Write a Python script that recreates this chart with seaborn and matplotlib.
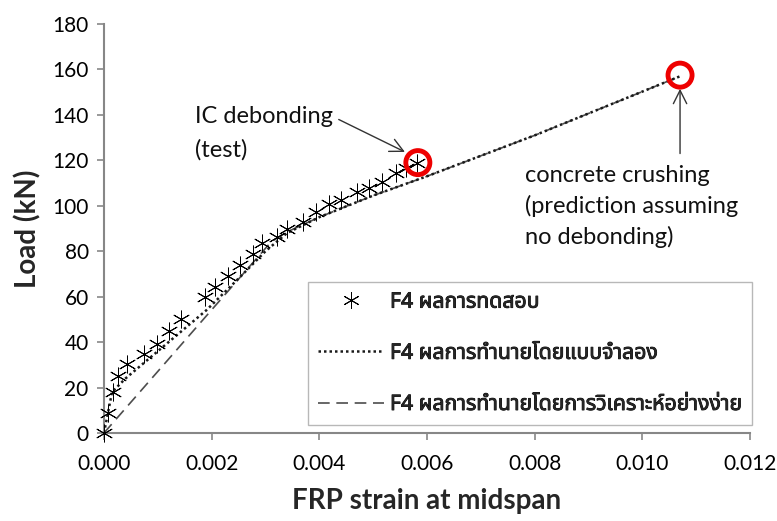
import numpy as np
import pandas as pd
import matplotlib
matplotlib.use("Agg")
import matplotlib.pyplot as plt
import matplotlib.patheffects as pe
import seaborn as sns
from matplotlib import font_manager as fm
from matplotlib.lines import Line2D

# ---------------- data ----------------
test_strain = [0.0, 0.00007, 0.00017, 0.00027, 0.00043, 0.00074, 0.00098, 0.00121,
               0.00144, 0.00188, 0.00206, 0.00231, 0.00253, 0.00276, 0.00293, 0.00321,
               0.0034, 0.00369, 0.00394, 0.00418, 0.00441, 0.0047, 0.00493, 0.00516,
               0.00542, 0.00561, 0.00582]
test_load = [0.0, 9.0, 18.2, 25.0, 30.4, 34.8, 39.2, 44.9, 50.0, 59.7, 64.4, 69.1,
             73.9, 78.8, 83.8, 86.4, 89.6, 93.0, 97.4, 101.0, 102.5, 106.2, 107.7,
             110.6, 114.3, 116.5, 118.8]

model_strain = [0.0, 0.00015, 0.0004, 0.0019, 0.0025, 0.003, 0.0034, 0.004, 0.005,
                0.006, 0.0080, 0.0107]
model_load = [0.0, 18.0, 24.0, 54.0, 68.0, 80.0, 88.0, 95.0, 104.5, 113.0, 131.0, 157.0]

simple_strain = [0.0, 0.0031, 0.0034, 0.004, 0.005, 0.006, 0.0080, 0.0107]
simple_load = [0.0, 84.0, 88.5, 95.0, 104.5, 113.0, 131.0, 157.0]

event_strain = [0.00583, 0.0107]
event_load = [119.0, 157.5]

legend_labels = ["F4 ผลการทดสอบ",
                 "F4 ผลการทำนายโดยแบบจำลอง",
                 "F4 ผลการทำนายโดยการวิเคราะห์อย่างง่าย"]
x_ticks = [0.000, 0.002, 0.004, 0.006, 0.008, 0.010, 0.012]
y_ticks = [0, 20, 40, 60, 80, 100, 120, 140, 160, 180]
x_label = "FRP strain at midspan"
y_label = "Load (kN)"
note_ic = "IC debonding\n(test)"
note_cc = "concrete crushing\n(prediction assuming\nno debonding)"

# ---------------- fonts ----------------
sns.set_style("white")
base_font = "Lato"
thai_font = None
try:
    from fontTools.ttLib import TTFont
    prefs = []
    for f in fm.fontManager.ttflist:
        try:
            tt = TTFont(f.fname, fontNumber=0, lazy=True)
            cmap = tt.getBestCmap()
            if cmap and 0x0E1C in cmap and 0x0E33 in cmap:
                prefs.append(f.name)
        except Exception:
            pass
    if prefs:
        order = ["Tahoma", "Noto Sans Thai", "Noto Sans Thai UI", "Loma", "Garuda"]
        thai_font = next((n for n in order if n in prefs), prefs[0])
except Exception:
    pass
legend_family = [thai_font, "DejaVu Sans"] if thai_font else ["DejaVu Sans"]
plt.rcParams["font.family"] = [base_font, "DejaVu Sans"]

# ---------------- figure ----------------
fig = plt.figure(figsize=(7.77, 5.21), dpi=100)
ax = fig.add_axes([0.1338, 0.1689, 0.8315, 0.785])

df_test = pd.DataFrame({"strain": test_strain, "load": test_load})
df_model = pd.DataFrame({"strain": model_strain, "load": model_load})
df_simple = pd.DataFrame({"strain": simple_strain, "load": simple_load})
df_event = pd.DataFrame({"strain": event_strain, "load": event_load})

star = (6, 2, 0)
sns.lineplot(data=df_simple, x="strain", y="load", ax=ax, color="#4d4d4d",
             linewidth=1.2, estimator=None, sort=False,
             linestyle=(0, (7, 4)), legend=False)
sns.lineplot(data=df_model, x="strain", y="load", ax=ax, color="#1a1a1a",
             linewidth=1.8, estimator=None, sort=False,
             linestyle=(0, (1, 1.2)), legend=False)
sns.scatterplot(data=df_test, x="strain", y="load", ax=ax, color="black",
                marker=star, s=150, linewidth=0.7, legend=False, zorder=4,
                clip_on=False)
sns.scatterplot(data=df_event, x="strain", y="load", ax=ax, marker="o",
                s=300, facecolor="none", edgecolor="#ee0000", linewidth=3.5,
                legend=False, zorder=5)

ax.set_xlim(0, 0.012)
ax.set_ylim(0, 180)
ax.set_xticks(x_ticks)
ax.set_xticklabels([f"{v:.3f}" for v in x_ticks])
ax.set_yticks(y_ticks)
ax.set_yticklabels([str(v) for v in y_ticks])

for s in ["top", "right"]:
    ax.spines[s].set_visible(False)
for s in ["left", "bottom"]:
    ax.spines[s].set_color("#878787")
    ax.spines[s].set_linewidth(1.5)
ax.tick_params(axis="both", which="major", direction="out", length=5, width=1.2,
               color="#878787", labelsize=15, labelcolor="black", pad=6,
               left=True, bottom=True)
ax.tick_params(axis="x", pad=10)

ax.set_xlabel(x_label, fontsize=20, fontweight="bold", labelpad=10)
ax.set_ylabel(y_label, fontsize=20, fontweight="bold", labelpad=8)

# annotations
ax.annotate(note_ic, xy=(0.00559, 123.7), xytext=(0.00169, 132.0),
            fontsize=17, color="#111111", ha="left", va="center",
            linespacing=1.7,
            arrowprops=dict(arrowstyle="->", color="#333333", lw=1.0,
                            mutation_scale=24, shrinkA=2, shrinkB=0,
                            relpos=(1.0, 0.8)))
ax.annotate("", xy=(0.0107, 151.5), xytext=(0.0107, 123),
            arrowprops=dict(arrowstyle="->", color="#333333", lw=1.0,
                            mutation_scale=24, shrinkA=0, shrinkB=0))
ax.text(0.00782, 118, note_cc, fontsize=17, color="#111111", ha="left",
        va="top", linespacing=1.5)

# legend
handles = [
    Line2D([], [], color="black", linestyle="", marker=star, markersize=12,
           markeredgewidth=0.7),
    Line2D([], [], color="#1a1a1a", linewidth=1.8, linestyle=(0, (1, 1.2))),
    Line2D([], [], color="#4d4d4d", linewidth=1.2, linestyle=(0, (7, 4))),
]
leg = ax.legend(handles, legend_labels, loc="upper left",
                bbox_to_anchor=(0.316, 0.369), borderaxespad=0,
                frameon=True, fancybox=False,
                edgecolor="#b8b8b8", framealpha=1, labelspacing=1.42,
                handlelength=3.1, handletextpad=0.3, borderpad=0.45,
                prop=fm.FontProperties(family=legend_family, size=15.3,
                                       weight="bold"))
leg.get_frame().set_linewidth(1.0)
for t in leg.get_texts():
    t.set_path_effects([pe.withStroke(linewidth=0.6, foreground="black")])

fig.savefig("out.png", dpi=100)
